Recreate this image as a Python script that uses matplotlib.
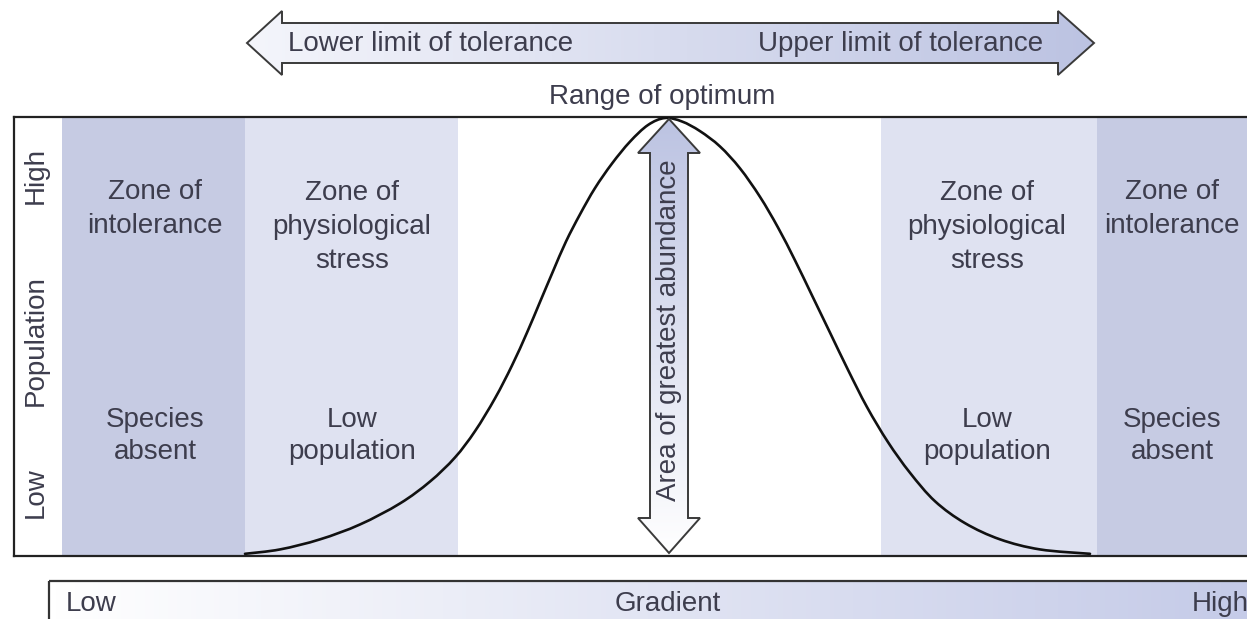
import numpy as np
import matplotlib
matplotlib.use("Agg")
import matplotlib.pyplot as plt
from matplotlib.patches import Polygon, PathPatch
from matplotlib.path import Path
from matplotlib.colors import LinearSegmentedColormap

plt.rcParams['font.family'] = ['Liberation Sans', 'DejaVu Sans']

# ---------------- data ----------------
# gradient position (reference pixel columns) and relative population (%)
gradient_pos = [245, 280, 320, 360, 400, 430, 455, 475, 495, 512, 527, 540, 553,
                566, 580, 595, 612, 630, 648, 665, 682, 700, 720, 740, 760, 778,
                795, 812, 830, 848, 867, 888, 910, 935, 965, 1000, 1040, 1090]
population = [0.5, 1.5, 3.8, 7.2, 12.0, 17.0, 22.5, 28.5, 36.0, 43.5, 51.0, 58.0,
              65.0, 71.8, 78.0, 84.0, 89.6, 94.6, 98.4, 100.0, 99.2, 97.0, 93.5,
              88.5, 82.0, 75.0, 67.5, 59.5, 51.0, 42.5, 34.0, 26.0, 19.0, 12.5,
              7.5, 3.8, 1.5, 0.5]

zone_edges = [62, 245, 458, 881, 1097, 1247]
zone_kinds = ['intolerance', 'stress', 'optimum', 'stress', 'intolerance']
zone_titles = ['Zone of\nintolerance', 'Zone of\nphysiological\nstress', '',
               'Zone of\nphysiological\nstress', 'Zone of\nintolerance']
zone_states = ['Species\nabsent', 'Low\npopulation', '', 'Low\npopulation', 'Species\nabsent']
zone_text_x = [155, 352, None, 987, 1172]

pop_ticks = ['Low', 'Population', 'High']
grad_ticks = ['Low', 'Gradient', 'High']

# ---------------- styles ----------------
W, H = 1247, 619
TXT = '#3d3d4d'
FS = 20
LS = 1.42
zone_colors = {'intolerance': '#c6cbe3', 'stress': '#dfe2f1', 'optimum': '#ffffff'}

fig = plt.figure(figsize=(W / 100, H / 100), dpi=100)
fig.patch.set_facecolor('white')

# main chart axes (box from x=14..1247, y=117..556 in pixels)
bx0, bx1, by0, by1 = 14, 1247, 117, 556
ax = fig.add_axes([bx0 / W, 1 - by1 / H, (bx1 - bx0) / W, (by1 - by0) / H])
ax.set_xlim(bx0, bx1)
ax.set_ylim(0, (by1 - by0) / (by1 - 118) * 100)
ax.set_xticks([])
ax.set_yticks([])
for s in ['left', 'top', 'bottom']:
    ax.spines[s].set_linewidth(1.6)
    ax.spines[s].set_color('#222222')
ax.spines['right'].set_visible(False)

for i, kind in enumerate(zone_kinds):
    ax.axvspan(zone_edges[i], zone_edges[i + 1], color=zone_colors[kind], lw=0, zorder=0)

# smooth curve through the read points (Catmull-Rom as cubic Bezier path)
P = np.column_stack([gradient_pos, population]).astype(float)
verts = [tuple(P[0])]
codes = [Path.MOVETO]
for i in range(len(P) - 1):
    p0 = P[i - 1] if i > 0 else P[i]
    p1, p2 = P[i], P[i + 1]
    p3 = P[i + 2] if i + 2 < len(P) else P[i + 1]
    c1 = p1 + (p2 - p0) / 6.0
    c2 = p2 - (p3 - p1) / 6.0
    verts += [tuple(c1), tuple(c2), tuple(p2)]
    codes += [Path.CURVE4] * 3
ax.add_patch(PathPatch(Path(verts, codes), facecolor='none', edgecolor='#111111',
                       lw=1.9, zorder=3, capstyle='round', joinstyle='round'))

# canvas overlay in pixel coordinates
cv = fig.add_axes([0, 0, 1, 1], zorder=5)
cv.set_xlim(0, W)
cv.set_ylim(H, 0)
cv.axis('off')
cv.patch.set_alpha(0)

# zone texts
for i in range(len(zone_kinds)):
    if zone_text_x[i] is None:
        continue
    n = zone_titles[i].count('\n') + 1
    cy = 191 + (n - 1) * 36 / 2
    cv.text(zone_text_x[i], cy, zone_titles[i], ha='center', va='center',
            fontsize=FS, color=TXT, linespacing=LS, zorder=8)
    cv.text(zone_text_x[i], 436, zone_states[i], ha='center', va='center',
            fontsize=FS, color=TXT, linespacing=LS * 0.95, zorder=8)

# population axis labels (rotated)
for lab, yy in zip(pop_ticks, [493, 341, 175]):
    cv.text(36, yy, lab, rotation=90, ha='center', va='center', fontsize=FS, color=TXT, zorder=8)

def grad_fill(poly_pts, extent, c_start, c_end, horizontal=True):
    cmap = LinearSegmentedColormap.from_list('g', [c_start, c_end])
    if horizontal:
        arr = np.linspace(0, 1, 256).reshape(1, -1)
    else:
        arr = np.linspace(0, 1, 256).reshape(-1, 1)
    poly = Polygon(poly_pts, closed=True, facecolor='none', edgecolor='#3a3a3a',
                   lw=1.4, joinstyle='miter', zorder=6)
    cv.add_patch(poly)
    im = cv.imshow(arr, extent=extent, origin='upper', cmap=cmap, aspect='auto',
                   interpolation='bilinear', zorder=5)
    im.set_clip_path(poly)

# top double arrow
top_pts = [(247, 43), (282, 11), (282, 23), (1058, 23), (1058, 11), (1094, 43),
           (1058, 75), (1058, 63), (282, 63), (282, 75)]
grad_fill(top_pts, (247, 1094, 75, 11), '#f4f5fb', '#bcc3e2')
cv.text(288, 44, 'Lower limit of tolerance', ha='left', va='center', fontsize=FS, color=TXT, zorder=8)
cv.text(1043, 44, 'Upper limit of tolerance', ha='right', va='center', fontsize=FS, color=TXT, zorder=8)
cv.text(662, 97, 'Range of optimum', ha='center', va='center', fontsize=FS, color=TXT, zorder=8)

# vertical double arrow
vx = 669
v_pts = [(vx, 119), (vx - 31, 153), (vx - 19, 153), (vx - 19, 518), (vx - 31, 518),
         (vx, 553), (vx + 31, 518), (vx + 19, 518), (vx + 19, 153), (vx + 31, 153)]
grad_fill(v_pts, (vx - 31, vx + 31, 553, 119), '#bcc3e2', '#ffffff', horizontal=False)
cv.text(vx, 330, 'Area of greatest abundance', rotation=90, ha='center', va='center',
        fontsize=FS, color=TXT, zorder=8)

# bottom gradient bar
bar_pts = [(49, 581), (1260, 581), (1260, 640), (49, 640)]
cmap = LinearSegmentedColormap.from_list('gb', ['#ffffff', '#c5cbe8'])
bar = Polygon(bar_pts, closed=True, facecolor='none', edgecolor='#333333', lw=1.6, zorder=6)
cv.add_patch(bar)
im = cv.imshow(np.linspace(0, 1, 256).reshape(1, -1), extent=(49, 1247, 640, 581),
               origin='upper', cmap=cmap, aspect='auto', interpolation='bilinear', zorder=5)
im.set_clip_path(bar)
cv.text(66, 604, grad_ticks[0], ha='left', va='center', fontsize=FS, color=TXT, zorder=8)
cv.text(668, 604, grad_ticks[1], ha='center', va='center', fontsize=FS, color=TXT, zorder=8)
cv.text(1192, 604, grad_ticks[2], ha='left', va='center', fontsize=FS, color=TXT, zorder=8)

fig.savefig('out.png', dpi=100)
